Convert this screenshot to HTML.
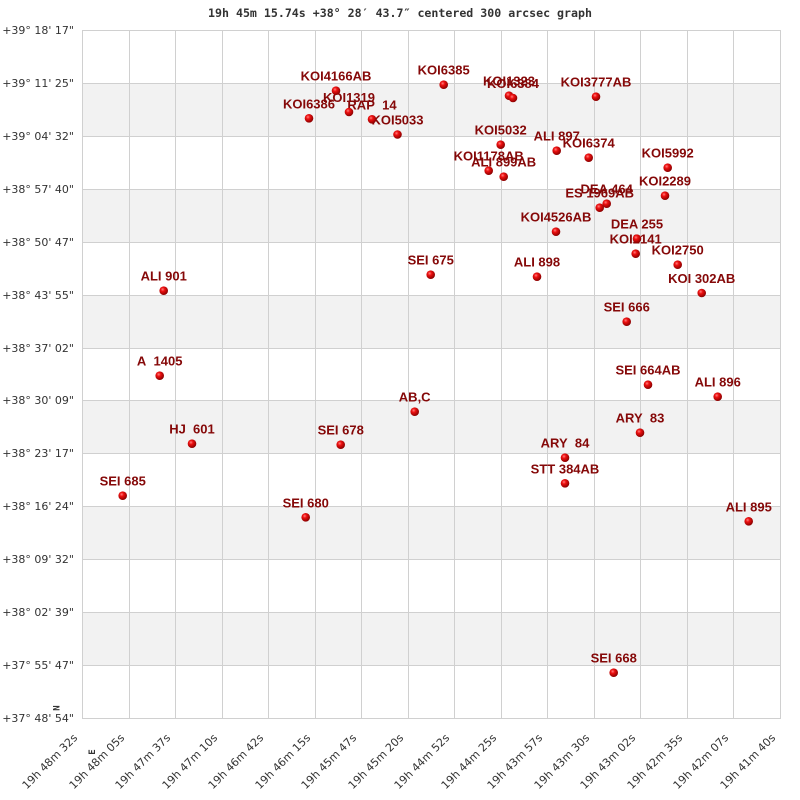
<!DOCTYPE html>
<html><head><meta charset="utf-8"><style>
html,body{margin:0;padding:0;background:#fff;}
svg{display:block;}
.yl{font-family:"DejaVu Sans","Liberation Sans",sans-serif;font-size:11px;fill:#333;}
.xl{font-family:"DejaVu Sans","Liberation Sans",sans-serif;font-size:11px;fill:#333;}
.lb{font-family:"Liberation Sans",Arial,sans-serif;font-size:13px;font-weight:bold;fill:#850808;}
.tt{font-family:"DejaVu Sans Mono","Liberation Mono",monospace;font-size:11.6px;font-weight:bold;fill:#333;}
</style></head><body>
<svg width="800" height="800" viewBox="0 0 800 800" xmlns="http://www.w3.org/2000/svg">
<defs>
<radialGradient id="sp" cx="0.38" cy="0.35" r="0.65">
<stop offset="0" stop-color="#ff8080"/>
<stop offset="0.35" stop-color="#ee1010"/>
<stop offset="1" stop-color="#8a0000"/>
</radialGradient>
</defs>
<text class="tt" x="400" y="17" text-anchor="middle">19h 45m 15.74s +38° 28′ 43.7″ centered 300 arcsec graph</text>
<!-- bands -->
<g fill="#f2f2f2">
<rect x="82" y="83" width="698" height="53"/>
<rect x="82" y="189" width="698" height="53"/>
<rect x="82" y="295" width="698" height="53"/>
<rect x="82" y="400" width="698" height="53"/>
<rect x="82" y="506" width="698" height="53"/>
<rect x="82" y="612" width="698" height="53"/>
</g>
<!-- grid -->
<g stroke="#d0d0d0" stroke-width="1" fill="none">
<line x1="129.5" y1="30" x2="129.5" y2="718"/>
<line x1="175.5" y1="30" x2="175.5" y2="718"/>
<line x1="222.5" y1="30" x2="222.5" y2="718"/>
<line x1="268.5" y1="30" x2="268.5" y2="718"/>
<line x1="315.5" y1="30" x2="315.5" y2="718"/>
<line x1="361.5" y1="30" x2="361.5" y2="718"/>
<line x1="408.5" y1="30" x2="408.5" y2="718"/>
<line x1="454.5" y1="30" x2="454.5" y2="718"/>
<line x1="501.5" y1="30" x2="501.5" y2="718"/>
<line x1="547.5" y1="30" x2="547.5" y2="718"/>
<line x1="594.5" y1="30" x2="594.5" y2="718"/>
<line x1="640.5" y1="30" x2="640.5" y2="718"/>
<line x1="687.5" y1="30" x2="687.5" y2="718"/>
<line x1="733.5" y1="30" x2="733.5" y2="718"/>
<line x1="82" y1="83.5" x2="780" y2="83.5"/>
<line x1="82" y1="136.5" x2="780" y2="136.5"/>
<line x1="82" y1="189.5" x2="780" y2="189.5"/>
<line x1="82" y1="242.5" x2="780" y2="242.5"/>
<line x1="82" y1="295.5" x2="780" y2="295.5"/>
<line x1="82" y1="348.5" x2="780" y2="348.5"/>
<line x1="82" y1="400.5" x2="780" y2="400.5"/>
<line x1="82" y1="453.5" x2="780" y2="453.5"/>
<line x1="82" y1="506.5" x2="780" y2="506.5"/>
<line x1="82" y1="559.5" x2="780" y2="559.5"/>
<line x1="82" y1="612.5" x2="780" y2="612.5"/>
<line x1="82" y1="665.5" x2="780" y2="665.5"/>
<rect x="82.5" y="30.5" width="698" height="688"/>
</g>
<!-- y labels -->
<g class="yl" text-anchor="end">
<text x="74" y="34">+39° 18' 17"</text>
<text x="74" y="87">+39° 11' 25"</text>
<text x="74" y="140">+39° 04' 32"</text>
<text x="74" y="193">+38° 57' 40"</text>
<text x="74" y="246">+38° 50' 47"</text>
<text x="74" y="299">+38° 43' 55"</text>
<text x="74" y="352">+38° 37' 02"</text>
<text x="74" y="404">+38° 30' 09"</text>
<text x="74" y="457">+38° 23' 17"</text>
<text x="74" y="510">+38° 16' 24"</text>
<text x="74" y="563">+38° 09' 32"</text>
<text x="74" y="616">+38° 02' 39"</text>
<text x="74" y="669">+37° 55' 47"</text>
<text x="74" y="722">+37° 48' 54"</text>
</g>
<!-- x labels -->
<g class="xl" text-anchor="end">
<text transform="translate(78,738.5) rotate(-45)">19h 48m 32s</text>
<text transform="translate(125,738.5) rotate(-45)">19h 48m 05s</text>
<text transform="translate(171,738.5) rotate(-45)">19h 47m 37s</text>
<text transform="translate(218,738.5) rotate(-45)">19h 47m 10s</text>
<text transform="translate(264,738.5) rotate(-45)">19h 46m 42s</text>
<text transform="translate(311,738.5) rotate(-45)">19h 46m 15s</text>
<text transform="translate(357,738.5) rotate(-45)">19h 45m 47s</text>
<text transform="translate(404,738.5) rotate(-45)">19h 45m 20s</text>
<text transform="translate(450,738.5) rotate(-45)">19h 44m 52s</text>
<text transform="translate(497,738.5) rotate(-45)">19h 44m 25s</text>
<text transform="translate(543,738.5) rotate(-45)">19h 43m 57s</text>
<text transform="translate(590,738.5) rotate(-45)">19h 43m 30s</text>
<text transform="translate(636,738.5) rotate(-45)">19h 43m 02s</text>
<text transform="translate(683,738.5) rotate(-45)">19h 42m 35s</text>
<text transform="translate(729,738.5) rotate(-45)">19h 42m 07s</text>
<text transform="translate(776,738.5) rotate(-45)">19h 41m 40s</text>
</g>
<!-- N / E markers -->
<text transform="translate(59.5,708) rotate(-90)" text-anchor="middle" style="font-family:'DejaVu Sans Mono',monospace;font-size:9px;font-weight:bold;fill:#333">N</text>
<text transform="translate(95,752) rotate(-90)" text-anchor="middle" style="font-family:'DejaVu Sans Mono',monospace;font-size:9px;font-weight:bold;fill:#333">E</text>
<!-- labels -->
<g class="lb" text-anchor="middle">
<text x="336" y="80.5">KOI4166AB</text>
<text x="349" y="102">KOI1319</text>
<text x="309" y="108.5">KOI6386</text>
<text x="372" y="109.5">RAP&#160;&#160;14</text>
<text x="397.5" y="124.5">KOI5033</text>
<text x="443.7" y="74.7">KOI6385</text>
<text x="509" y="85.7">KOI1323</text>
<text x="513" y="88">KOI6384</text>
<text x="596" y="86.7">KOI3777AB</text>
<text x="500.7" y="134.7">KOI5032</text>
<text x="556.7" y="140.7">ALI 897</text>
<text x="588.7" y="147.7">KOI6374</text>
<text x="488.7" y="160.7">KOI1178AB</text>
<text x="503.7" y="166.7">ALI 899AB</text>
<text x="667.7" y="157.7">KOI5992</text>
<text x="665" y="185.7">KOI2289</text>
<text x="606.7" y="193.7">DEA 464</text>
<text x="599.7" y="197.7">ES 1969AB</text>
<text x="556" y="221.7">KOI4526AB</text>
<text x="637" y="228.7">DEA 255</text>
<text x="635.7" y="243.7">KOI2141</text>
<text x="677.7" y="254.7">KOI2750</text>
<text x="701.7" y="283">KOI 302AB</text>
<text x="537" y="266.7">ALI 898</text>
<text x="430.7" y="264.7">SEI 675</text>
<text x="163.7" y="280.7">ALI 901</text>
<text x="159.7" y="365.7">A&#160;&#160;1405</text>
<text x="414.7" y="401.7">AB,C</text>
<text x="192" y="433.7">HJ&#160;&#160;601</text>
<text x="340.7" y="434.7">SEI 678</text>
<text x="122.7" y="485.7">SEI 685</text>
<text x="305.7" y="507.3">SEI 680</text>
<text x="626.7" y="311.7">SEI 666</text>
<text x="648" y="374.7">SEI 664AB</text>
<text x="717.7" y="386.7">ALI 896</text>
<text x="640" y="422.7">ARY&#160;&#160;83</text>
<text x="565" y="447.7">ARY&#160;&#160;84</text>
<text x="565" y="473.3">STT 384AB</text>
<text x="748.7" y="511.3">ALI 895</text>
<text x="613.7" y="662.7">SEI 668</text>
</g>
<!-- points -->
<g fill="url(#sp)">
<circle cx="336" cy="90.7" r="4.3"/>
<circle cx="349" cy="112" r="4.3"/>
<circle cx="309" cy="118.3" r="4.3"/>
<circle cx="372" cy="119.3" r="4.3"/>
<circle cx="397.5" cy="134.5" r="4.3"/>
<circle cx="443.7" cy="84.7" r="4.3"/>
<circle cx="509" cy="95.7" r="4.3"/>
<circle cx="513" cy="98" r="4.3"/>
<circle cx="596" cy="96.7" r="4.3"/>
<circle cx="500.7" cy="144.7" r="4.3"/>
<circle cx="556.7" cy="150.7" r="4.3"/>
<circle cx="588.7" cy="157.7" r="4.3"/>
<circle cx="488.7" cy="170.7" r="4.3"/>
<circle cx="503.7" cy="176.7" r="4.3"/>
<circle cx="667.7" cy="167.7" r="4.3"/>
<circle cx="665" cy="195.7" r="4.3"/>
<circle cx="606.7" cy="203.7" r="4.3"/>
<circle cx="599.7" cy="207.7" r="4.3"/>
<circle cx="556" cy="231.7" r="4.3"/>
<circle cx="637" cy="238.7" r="4.3"/>
<circle cx="635.7" cy="253.7" r="4.3"/>
<circle cx="677.7" cy="264.7" r="4.3"/>
<circle cx="701.7" cy="293" r="4.3"/>
<circle cx="537" cy="276.7" r="4.3"/>
<circle cx="430.7" cy="274.7" r="4.3"/>
<circle cx="163.7" cy="290.7" r="4.3"/>
<circle cx="159.7" cy="375.7" r="4.3"/>
<circle cx="414.7" cy="411.7" r="4.3"/>
<circle cx="192" cy="443.7" r="4.3"/>
<circle cx="340.7" cy="444.7" r="4.3"/>
<circle cx="122.7" cy="495.7" r="4.3"/>
<circle cx="305.7" cy="517.3" r="4.3"/>
<circle cx="626.7" cy="321.7" r="4.3"/>
<circle cx="648" cy="384.7" r="4.3"/>
<circle cx="717.7" cy="396.7" r="4.3"/>
<circle cx="640" cy="432.7" r="4.3"/>
<circle cx="565" cy="457.7" r="4.3"/>
<circle cx="565" cy="483.3" r="4.3"/>
<circle cx="748.7" cy="521.3" r="4.3"/>
<circle cx="613.7" cy="672.7" r="4.3"/>
</g>
</svg>
</body></html>
